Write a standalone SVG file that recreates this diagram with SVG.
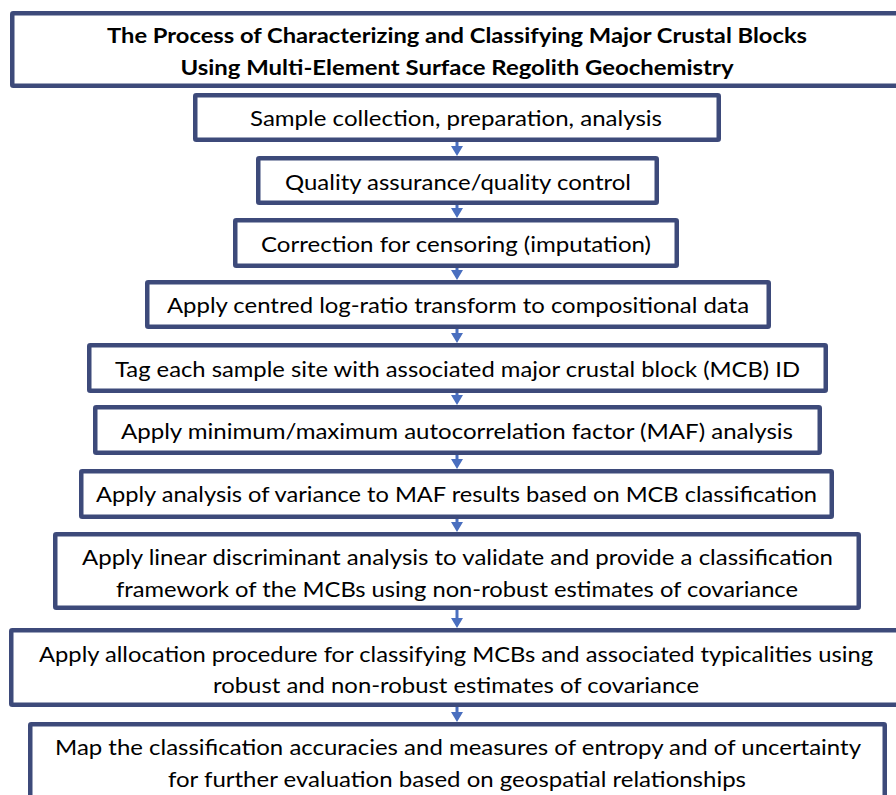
<svg xmlns="http://www.w3.org/2000/svg" width="896" height="795" viewBox="0 0 896 795">
<style>
.box{fill:#fff;stroke:#3D4A7A;stroke-width:4.5;stroke-linejoin:round}
.t{font-family:Lato,"Liberation Sans",sans-serif;font-size:22px;fill:#000;text-anchor:middle}
.tb{font-family:Lato,"Liberation Sans",sans-serif;font-size:21px;font-weight:bold;fill:#000;text-anchor:middle}
.c{stroke:#4A6FBF;stroke-width:3;fill:none;marker-end:url(#ah)}
</style>
<defs>
<marker id="ah" viewBox="0 0 10 12" refX="5" refY="6" markerWidth="10" markerHeight="12" markerUnits="userSpaceOnUse" orient="auto">
<path d="M0,0 L10,6 L0,12 z" fill="#4A6FBF"/>
</marker>
</defs>
<rect width="896" height="795" fill="#fff"/>
<g id="connectors">
<line class="c" x1="457" y1="140" x2="457" y2="151"/>
<line class="c" x1="457" y1="203" x2="457" y2="213"/>
<line class="c" x1="457" y1="266" x2="457" y2="275"/>
<line class="c" x1="457" y1="327" x2="457" y2="338"/>
<line class="c" x1="457" y1="391" x2="457" y2="400"/>
<line class="c" x1="457" y1="453" x2="457" y2="464"/>
<line class="c" x1="457" y1="517" x2="457" y2="527"/>
<line class="c" x1="457" y1="608" x2="457" y2="623"/>
<line class="c" x1="457" y1="705" x2="457" y2="717"/>
</g>
<g id="title">
<rect class="box" x="12.25" y="13.25" width="900" height="72.5" rx="1"/>
<text class="tb" x="457" y="43" textLength="700" lengthAdjust="spacingAndGlyphs">The Process of Characterizing and Classifying Major Crustal Blocks</text>
<text class="tb" x="457" y="75" textLength="553" lengthAdjust="spacingAndGlyphs">Using Multi-Element Surface Regolith Geochemistry</text>
</g>
<g id="n1">
<rect class="box" x="195.25" y="95.25" width="523.5" height="44.5" rx="1"/>
<text class="t" x="456" y="126" textLength="412" lengthAdjust="spacingAndGlyphs">Sample collection, preparation, analysis</text>
</g>
<g id="n2">
<rect class="box" x="258.25" y="158.25" width="398.5" height="44.5" rx="1"/>
<text class="t" x="458" y="189.5" textLength="346" lengthAdjust="spacingAndGlyphs">Quality assurance/quality control</text>
</g>
<g id="n3">
<rect class="box" x="235.25" y="220.25" width="441.5" height="45.5" rx="1"/>
<text class="t" x="456" y="251.5" textLength="390" lengthAdjust="spacingAndGlyphs">Correction for censoring (imputation)</text>
</g>
<g id="n4">
<rect class="box" x="147.25" y="282.25" width="621.5" height="44.5" rx="1"/>
<text class="t" x="458" y="313" textLength="582" lengthAdjust="spacingAndGlyphs">Apply centred log-ratio transform to compositional data</text>
</g>
<g id="n5">
<rect class="box" x="89.25" y="345.25" width="736.5" height="45.5" rx="1"/>
<text class="t" x="457.5" y="376.5" textLength="685" lengthAdjust="spacingAndGlyphs">Tag each sample site with associated major crustal block (MCB) ID</text>
</g>
<g id="n6">
<rect class="box" x="95.25" y="407.25" width="724.5" height="45.5" rx="1"/>
<text class="t" x="457" y="438.5" textLength="672" lengthAdjust="spacingAndGlyphs">Apply minimum/maximum autocorrelation factor (MAF) analysis</text>
</g>
<g id="n7">
<rect class="box" x="81.25" y="471.25" width="750.5" height="45.5" rx="1"/>
<text class="t" x="456.5" y="501.5" textLength="721" lengthAdjust="spacingAndGlyphs">Apply analysis of variance to MAF results based on MCB classification</text>
</g>
<g id="n8">
<rect class="box" x="55.25" y="534.25" width="803.5" height="73.5" rx="1"/>
<text class="t" x="457.5" y="565" textLength="751" lengthAdjust="spacingAndGlyphs">Apply linear discriminant analysis to validate and provide a classification</text>
<text class="t" x="457" y="596.5" textLength="682" lengthAdjust="spacingAndGlyphs">framework of the MCBs using non-robust estimates of covariance</text>
</g>
<g id="n9">
<rect class="box" x="11.25" y="630.25" width="900" height="74.5" rx="1"/>
<text class="t" x="456" y="662" textLength="834" lengthAdjust="spacingAndGlyphs">Apply allocation procedure for classifying MCBs and associated typicalities using</text>
<text class="t" x="456" y="693" textLength="486" lengthAdjust="spacingAndGlyphs">robust and non-robust estimates of covariance</text>
</g>
<g id="n10">
<rect class="box" x="30.25" y="724.25" width="854.5" height="80" rx="1"/>
<text class="t" x="458" y="755" textLength="806" lengthAdjust="spacingAndGlyphs">Map the classification accuracies and measures of entropy and of uncertainty</text>
<text class="t" x="457" y="787" textLength="578" lengthAdjust="spacingAndGlyphs">for further evaluation based on geospatial relationships</text>
</g>
</svg>
